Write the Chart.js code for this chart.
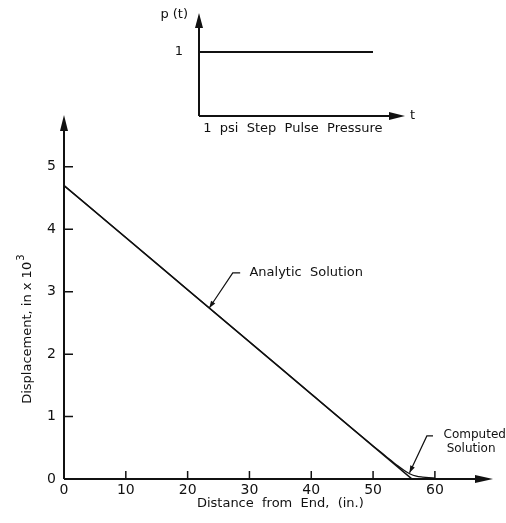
<!DOCTYPE html>
<html><head><meta charset="utf-8">
<script src="https://cdn.jsdelivr.net/npm/chart.js@4.4.1/dist/chart.umd.min.js"></script>
<style>
html,body{margin:0;padding:0;background:#fff;}
#wrap{position:relative;width:506px;height:523px;background:#fff;}
#main{position:absolute;left:0;top:0;}
#inset{position:absolute;left:150px;top:0;}
</style></head><body>
<div id="wrap">
<canvas id="main" width="506" height="523"></canvas>
<canvas id="inset" width="280" height="140"></canvas>
</div>
<script>
// ---- data ----
const analyticX = [0, 56.3];
const analyticY = [4.70, 0];
const computedX = [0, 10, 20, 30, 40, 50, 52, 54, 55, 56, 57, 58, 59, 60];
const computedY = [4.70, 3.87, 3.03, 2.20, 1.36, 0.53, 0.37, 0.21, 0.14, 0.08, 0.045, 0.03, 0.02, 0.015];
const xTicks = [0, 10, 20, 30, 40, 50, 60];
const yTicks = [0, 1, 2, 3, 4, 5];
const pulseT = [0, 0, 1];
const pulseP = [0, 1, 1];
const pulseTicks = [1];

const INK = '#111';
const FONT = '"DejaVu Sans", "Liberation Sans", sans-serif';

function arrowHead(ctx, tipX, tipY, dx, dy, len, half) {
  const bx = tipX - dx * len, by = tipY - dy * len;
  const px = -dy, py = dx;
  ctx.beginPath();
  ctx.moveTo(tipX, tipY);
  ctx.lineTo(bx + px * half, by + py * half);
  ctx.lineTo(bx - px * half, by - py * half);
  ctx.closePath();
  ctx.fill();
}

function leader(ctx, xs, ys, pts) {
  const p = pts.map(q => [xs.getPixelForValue(q[0]), ys.getPixelForValue(q[1])]);
  ctx.beginPath();
  ctx.moveTo(p[0][0], p[0][1]);
  for (let i = 1; i < p.length; i++) ctx.lineTo(p[i][0], p[i][1]);
  ctx.stroke();
  const dx = p[0][0] - p[1][0], dy = p[0][1] - p[1][1];
  const L = Math.hypot(dx, dy);
  arrowHead(ctx, p[0][0], p[0][1], dx / L, dy / L, 7, 2.5);
}

const mainDecor = {
  id: 'mainDecor',
  afterDraw(chart) {
    const ctx = chart.ctx, xs = chart.scales.x, ys = chart.scales.y;
    const x0 = xs.getPixelForValue(0), y0 = ys.getPixelForValue(0);
    const xEnd = xs.getPixelForValue(xs.max), yEnd = ys.getPixelForValue(ys.max);
    ctx.save();
    ctx.strokeStyle = INK; ctx.fillStyle = INK; ctx.lineCap = 'butt';
    ctx.lineWidth = 2;
    ctx.beginPath();
    ctx.moveTo(x0, y0); ctx.lineTo(x0, yEnd + 8);
    ctx.moveTo(x0, y0); ctx.lineTo(xEnd - 8, y0);
    ctx.stroke();
    arrowHead(ctx, x0, yEnd, 0, -1, 16, 4);
    arrowHead(ctx, xEnd, y0, 1, 0, 18, 4);
    ctx.lineWidth = 1.5;
    ctx.beginPath();
    yTicks.forEach(v => { if (v === 0) return; const y = ys.getPixelForValue(v); ctx.moveTo(x0, y); ctx.lineTo(x0 + 9, y); });
    xTicks.forEach(v => { if (v === 0) return; const x = xs.getPixelForValue(v); ctx.moveTo(x, y0); ctx.lineTo(x, y0 - 8); });
    ctx.stroke();

    // axis titles
    ctx.font = '13px ' + FONT;
    ctx.textBaseline = 'middle';
    ctx.textAlign = 'center';
    ctx.fillText('Distance  from  End,  (in.)', xs.getPixelForValue(35), y0 + 25);

    ctx.save();
    ctx.translate(28, ys.getPixelForValue(2.4));
    ctx.rotate(-Math.PI / 2);
    const main = 'Displacement, in x 10';
    ctx.font = '13px ' + FONT;
    const w1 = ctx.measureText(main).width;
    ctx.font = '10px ' + FONT;
    const w2 = ctx.measureText('3').width;
    const start = -(w1 + w2 + 1) / 2;
    ctx.textAlign = 'left';
    ctx.font = '13px ' + FONT;
    ctx.fillText(main, start, 0);
    ctx.font = '10px ' + FONT;
    ctx.fillText('3', start + w1 + 1, -7);
    ctx.restore();

    // annotations
    ctx.lineWidth = 1.2;
    leader(ctx, xs, ys, [[23.5, 4.70 * (1 - 23.5 / 56.3)], [27.3, 3.30], [28.5, 3.30]]);
    leader(ctx, xs, ys, [[55.9, 0.10], [58.7, 0.69], [59.7, 0.69]]);
    ctx.font = '13px ' + FONT;
    ctx.textAlign = 'left'; ctx.textBaseline = 'middle';
    ctx.fillText('Analytic  Solution', xs.getPixelForValue(30.0), ys.getPixelForValue(3.30));
    ctx.font = '12px ' + FONT;
    ctx.fillText('Computed', xs.getPixelForValue(61.4), ys.getPixelForValue(0.70));
    ctx.fillText('Solution', xs.getPixelForValue(61.9), ys.getPixelForValue(0.48));
    ctx.restore();
  }
};

new Chart(document.getElementById('main'), {
  type: 'scatter',
  data: {
    datasets: [
      { label: 'Analytic Solution', data: analyticX.map((x, i) => ({ x, y: analyticY[i] })),
        showLine: true, borderColor: INK, borderWidth: 1.6, pointRadius: 0, tension: 0 },
      { label: 'Computed Solution', data: computedX.map((x, i) => ({ x, y: computedY[i] })),
        showLine: true, borderColor: INK, borderWidth: 1.3, pointRadius: 0, cubicInterpolationMode: 'monotone' }
    ]
  },
  options: {
    responsive: false, animation: false, devicePixelRatio: 1,
    layout: { padding: { left: 0, top: 115, right: 13, bottom: 0 } },
    plugins: { legend: { display: false }, tooltip: { enabled: false } },
    scales: {
      x: {
        type: 'linear', min: 0, max: 69.4,
        afterBuildTicks: s => { s.ticks = xTicks.map(v => ({ value: v })); },
        afterFit: s => { s.height = 44; },
        grid: { display: false, drawTicks: false }, border: { display: false },
        ticks: { padding: 3, color: INK, font: { family: FONT, size: 14 }, maxRotation: 0, autoSkip: false }
      },
      y: {
        type: 'linear', min: 0, max: 5.83,
        afterBuildTicks: s => { s.ticks = yTicks.map(v => ({ value: v })); },
        afterFit: s => { s.width = 64; },
        grid: { display: false, drawTicks: false }, border: { display: false },
        ticks: { padding: 8, color: INK, font: { family: FONT, size: 14 }, autoSkip: false }
      }
    }
  },
  plugins: [mainDecor]
});

const insetDecor = {
  id: 'insetDecor',
  afterDraw(chart) {
    const ctx = chart.ctx, xs = chart.scales.x, ys = chart.scales.y;
    const x0 = xs.getPixelForValue(0), y0 = ys.getPixelForValue(0);
    const xEnd = xs.getPixelForValue(xs.max), yEnd = ys.getPixelForValue(ys.max);
    ctx.save();
    ctx.strokeStyle = INK; ctx.fillStyle = INK;
    ctx.lineWidth = 2;
    ctx.beginPath();
    ctx.moveTo(x0, y0); ctx.lineTo(x0, yEnd + 8);
    ctx.moveTo(x0, y0); ctx.lineTo(xEnd - 8, y0);
    ctx.stroke();
    arrowHead(ctx, x0, yEnd, 0, -1, 15, 4);
    arrowHead(ctx, xEnd, y0, 1, 0, 16, 4);
    ctx.font = '13px ' + FONT;
    ctx.textBaseline = 'middle';
    ctx.textAlign = 'right';
    ctx.fillText('p (t)', x0 - 11, yEnd + 2);
    pulseTicks.forEach(v => ctx.fillText(String(v), x0 - 16, ys.getPixelForValue(v)));
    ctx.textAlign = 'left';
    ctx.fillText('t', xEnd + 5, y0);
    ctx.textAlign = 'center';
    ctx.fillText('1  psi  Step  Pulse  Pressure', xs.getPixelForValue(0.54), y0 + 13);
    ctx.restore();
  }
};

new Chart(document.getElementById('inset'), {
  type: 'scatter',
  data: {
    datasets: [
      { label: 'p(t)', data: pulseT.map((t, i) => ({ x: t, y: pulseP[i] })),
        showLine: true, borderColor: INK, borderWidth: 1.8, pointRadius: 0, tension: 0 }
    ]
  },
  options: {
    responsive: false, animation: false, devicePixelRatio: 1,
    layout: { padding: { left: 49, right: 25, top: 13, bottom: 24 } },
    plugins: { legend: { display: false }, tooltip: { enabled: false } },
    scales: {
      x: { type: 'linear', display: false, min: 0, max: 1.184 },
      y: { type: 'linear', display: false, min: 0, max: 1.609 }
    }
  },
  plugins: [insetDecor]
});
</script>
</body></html>
